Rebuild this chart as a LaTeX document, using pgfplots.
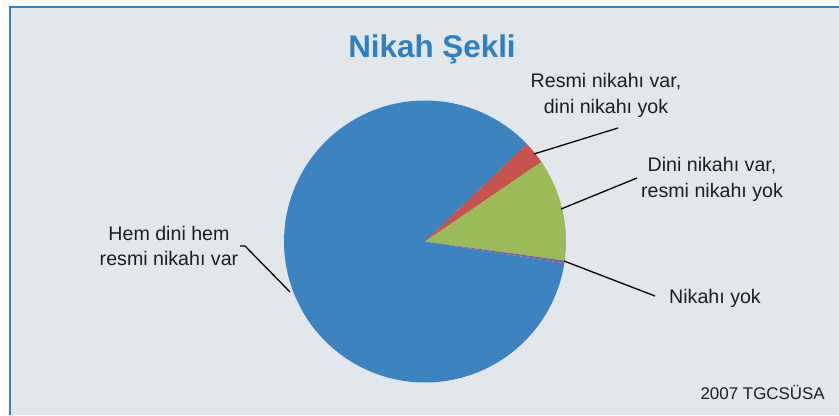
\documentclass[border=0pt]{standalone}
\usepackage{fontspec}
\setmainfont{Liberation Sans}
\usepackage{pgfplots}
\pgfplotsset{compat=1.18}
\definecolor{bg}{RGB}{226,231,236}
\definecolor{framecol}{RGB}{60,126,190}
\definecolor{titlecol}{RGB}{46,128,192}
\definecolor{pblue}{RGB}{61,131,191}
\definecolor{pred}{RGB}{200,82,78}
\definecolor{pgreen}{RGB}{155,187,89}
\definecolor{ppurple}{RGB}{128,100,162}
\definecolor{txt}{RGB}{30,30,30}
% slice values (percent)
\def\vRed{2.6}
\def\vGreen{11.7}
\def\vPurple{0.3}
\def\vBlue{85.4}
\pgfmathsetmacro\aA{43.7}
\pgfmathsetmacro\aB{\aA-3.6*\vRed}
\pgfmathsetmacro\aC{\aB-3.6*\vGreen}
\pgfmathsetmacro\aD{\aC-3.6*\vPurple}
\pgfmathsetmacro\aE{\aD-3.6*\vBlue}
\begin{document}
\begin{tikzpicture}[x=1bp,y=1bp]
\useasboundingbox (0,0) rectangle (839,415);
\fill[white] (0,0) rectangle (839,415);
\fill[bg] (9,0) rectangle (839,407);
\draw[framecol, line width=2bp] (9.5,0) -- (9.5,407.5) -- (839,407.5);
\begin{axis}[at={(425bp,173.5bp)}, anchor=center, x=141bp, y=141bp,
  hide axis, xmin=-1.1, xmax=1.1, ymin=-1.1, ymax=1.1, clip=false]
\addplot[draw=none, fill=pblue, domain=\aE:\aD, samples=240] ({cos(x)},{sin(x)}) -- (axis cs:0,0) -- cycle;
\addplot[draw=none, fill=pred, domain=\aB:\aA, samples=20] ({cos(x)},{sin(x)}) -- (axis cs:0,0) -- cycle;
\addplot[draw=none, fill=pgreen, domain=\aC:\aB, samples=60] ({cos(x)},{sin(x)}) -- (axis cs:0,0) -- cycle;
\addplot[draw=none, fill=ppurple, domain=\aD:\aC, samples=5] ({cos(x)},{sin(x)}) -- (axis cs:0,0) -- cycle;
\end{axis}
% title
\node[anchor=base, text=titlecol, font=\fontsize{31.5}{36}\selectfont\bfseries] at (432,358) {Nikah Şekli};
% labels
\begin{scope}[every node/.style={text=txt, align=center, font=\fontsize{19.7}{26}\selectfont, inner sep=0pt}]
\node at (606,320) {Resmi nikahı var,\\dini nikahı yok};
\node at (712,236) {Dini nikahı var,\\resmi nikahı yok};
\node at (715,117) {Nikahı yok};
\node at (169,169) {Hem dini hem\\resmi nikahı var};
\end{scope}
% leader lines
\begin{scope}[line width=1.3bp, black]
\draw (534,261) -- (618,287);
\draw (561,206) -- (637,237);
\draw (564,154) -- (655,119);
\draw (240,169) -- (245,169) -- (290,123);
\end{scope}
% source
\node[anchor=base east, text=txt, font=\fontsize{17}{20}\selectfont, inner sep=0pt] at (825,16) {2007 TGCSÜSA};
\end{tikzpicture}
\end{document}
